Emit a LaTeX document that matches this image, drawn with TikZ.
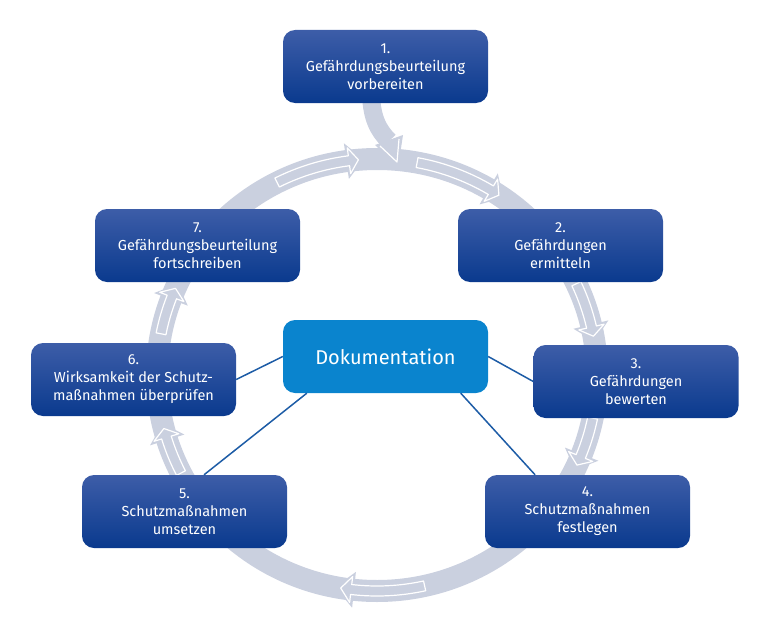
\documentclass[tikz,border=0pt]{standalone}
\usepackage{fontspec}
\setmainfont{Fira Sans}

\definecolor{ringgray}{HTML}{CAD0DF}
\definecolor{boxtop}{HTML}{3D5DA8}
\definecolor{boxbot}{HTML}{0A3A8E}
\definecolor{dokblue}{HTML}{0A84CE}
\definecolor{linkblue}{HTML}{1D5CA6}

% arrow on the ring: start, back of head, tip (angles on the ring)
\newcommand{\ringarrow}[3]{%
  \pgfmathsetmacro\ringback{#2+0.15*((#3)-(#2))}
  \pgfmathsetmacro\ringtip{#3+0.3*((#2)-(#3))}
  \fill[ringgray] ({377+238*cos(#2)},{375-234*sin(#2)})
    -- ({377+220*cos(#3)},{375-216*sin(#3)})
    -- ({377+202*cos(#2)},{375-198*sin(#2)}) -- cycle;
  \draw[white, line width=1.2pt, line join=round]
    ({377+225*cos(#1)},{375-221*sin(#1)})
    arc[start angle={-(#1)}, end angle={-\ringback}, x radius=225, y radius=221]
    -- ({377+233*cos(\ringback)},{375-229*sin(\ringback)})
    -- ({377+220*cos(\ringtip)},{375-216*sin(\ringtip)})
    -- ({377+207*cos(\ringback)},{375-203*sin(\ringback)})
    -- ({377+215*cos(\ringback)},{375-211*sin(\ringback)})
    arc[start angle={-\ringback}, end angle={-(#1)}, x radius=215, y radius=211]
    -- cycle;
}

\begin{document}
\begin{tikzpicture}[x=1pt,y=-1pt,
  stepbox/.style={rounded corners=12pt, top color=boxtop, bottom color=boxbot,
    text=white, minimum width=205pt, minimum height=73pt, inner sep=0pt,
    align=center, font=\fontsize{14.5}{18}\selectfont},
  dokbox/.style={rounded corners=12pt, fill=dokblue, text=white,
    minimum width=205pt, minimum height=73pt, inner sep=0pt,
    font=\fontsize{20}{24}\selectfont},
  link/.style={linkblue, line width=1.5pt}]
  \useasboundingbox (0,0) rectangle (768,634);

  % the ring
  \draw[ringgray, line width=22pt] (377,375) ellipse [x radius=220, y radius=216];
  \ringarrow{117}{98}{93.5}
  \ringarrow{79.5}{59.5}{55}
  \ringarrow{25}{13.5}{9}
  \ringarrow{-11.5}{-21.5}{-26}
  \ringarrow{-77.5}{-96}{-101}
  \ringarrow{207}{197.5}{193}
  \ringarrow{169}{159.5}{155}

  % feed from step 1
  \draw[ringgray, line width=18pt] (371,95) .. controls (372,118) and (378,130) .. (389,141);
  \fill[ringgray] (403,135) -- (398,168) -- (375,145) -- cycle;
  \draw[white, line width=1.2pt, line join=round] (380,146) -- (397,162) -- (399,139);

  \node[stepbox] (s1) at (385.5,66.5) {1.\\Gefährdungsbeurteilung\\vorbereiten};
  \node[stepbox] (s2) at (560.5,245.5) {2.\\Gefährdungen\\ermitteln};
  \node[stepbox] (s3) at (636,381.5) {3.\\Gefährdungen\\bewerten};
  \node[stepbox] (s4) at (587.5,511.5) {4.\\Schutzmaßnahmen\\festlegen};
  \node[stepbox] (s5) at (184.5,511.5) {5.\\Schutzmaßnahmen\\umsetzen};
  \node[stepbox] (s6) at (133.5,379.5) {6.\\Wirksamkeit der Schutz-\\maßnahmen überprüfen};
  \node[stepbox] (s7) at (197.5,245.5) {7.\\Gefährdungsbeurteilung\\fortschreiben};
  \node[dokbox] (dok) at (385.5,356.5) {Dokumentation};

  \draw[link] (dok.east) -- (s3.west);
  \draw[link] (dok.-26) -- (s4.145);
  \draw[link] (dok.205) -- (s5.62);
  \draw[link] (dok.west) -- (s6.east);
\end{tikzpicture}
\end{document}
